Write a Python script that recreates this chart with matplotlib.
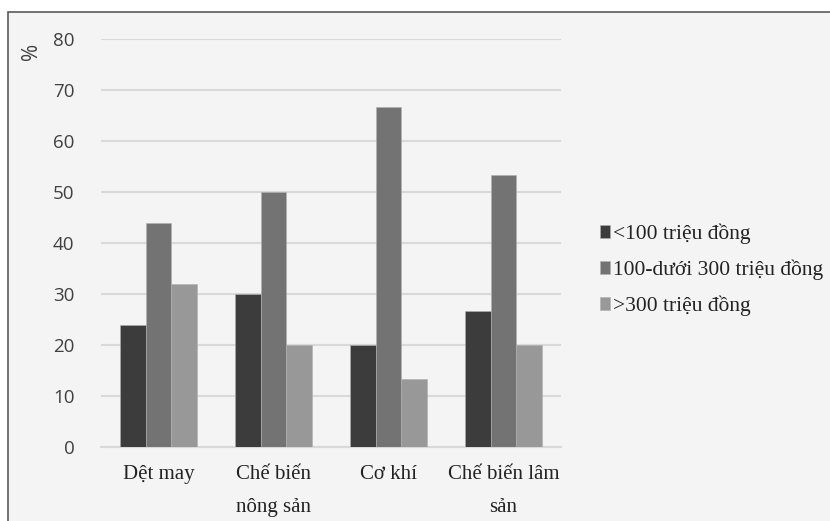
import numpy as np
import matplotlib.pyplot as plt
from matplotlib.patches import Rectangle

# số liệu (%)
nganh = ["Dệt may", "Chế biến\nnông sản", "Cơ khí", "Chế biến lâm\nsản"]
duoi_100 = [24.0, 30.0, 20.0, 26.7]
tu_100_300 = [44.0, 50.0, 66.7, 53.3]
tren_300 = [32.0, 20.0, 13.3, 20.0]
nhan = ["<100 triệu đồng", "100-dưới 300 triệu đồng", ">300 triệu đồng"]
mau = ["#3c3c3c", "#737373", "#989898"]
y_ticks = [0, 10, 20, 30, 40, 50, 60, 70, 80]

nen = "#f4f4f4"
fig = plt.figure(figsize=(8.3, 5.21), dpi=100)
fig.patch.set_facecolor("white")

# khung nền xám có viền
fig.patches.append(Rectangle((8 / 830, -0.1), 1.2, 1 - 12 / 521 + 0.1,
                             transform=fig.transFigure, facecolor=nen,
                             edgecolor="#5a5a5a", linewidth=1.2, zorder=-10))

ax = fig.add_axes([101 / 830, 1 - 447 / 521, 460 / 830, 408 / 521])
ax.set_facecolor("none")
ax.set_zorder(5)

x = np.arange(len(nganh))
w = 0.222
series = [duoi_100, tu_100_300, tren_300]
for i, (vals, c, lb) in enumerate(zip(series, mau, nhan)):
    ax.bar(x + (i - 1) * w, vals, width=w, color=c, label=lb,
           edgecolor="#b0b0b0", linewidth=0.4, zorder=3)

ax.set_xlim(-0.5, len(nganh) - 0.5)
ax.set_ylim(0, 80)
ax.set_yticks(y_ticks)
ax.set_yticklabels([str(t) for t in y_ticks], family="Open Sans",
                   fontsize=13.5, color="#404040")
ax.set_xticks(x)
ax.set_xticklabels(nganh, family="Liberation Serif", fontsize=15,
                   color="#222222", linespacing=2.0)
ax.tick_params(axis="both", length=0)
ax.tick_params(axis="y", pad=19)
ax.tick_params(axis="x", pad=13)

ax.yaxis.grid(True, color="#d9d9d9", linewidth=1.5, zorder=0)
ax.set_axisbelow(True)
for s in ["top", "right", "left"]:
    ax.spines[s].set_visible(False)
ax.spines["bottom"].set_color("#d9d9d9")
ax.spines["bottom"].set_linewidth(1.5)

fig.text(31 / 830, 1 - 51 / 521, "%", rotation=90, ha="center", va="center",
         family="Open Sans", fontsize=15, color="#404040")

leg = ax.legend(loc="center left", bbox_to_anchor=(591 / 830, 1 - 270 / 521),
                bbox_transform=fig.transFigure, frameon=False,
                prop={"family": "Liberation Serif", "size": 15.5},
                handlelength=0.5, handleheight=0.5, handletextpad=0.1,
                labelspacing=0.72, borderaxespad=0)
for t in leg.get_texts():
    t.set_color("#222222")

fig.savefig("out.png", dpi=100, facecolor=fig.get_facecolor())
